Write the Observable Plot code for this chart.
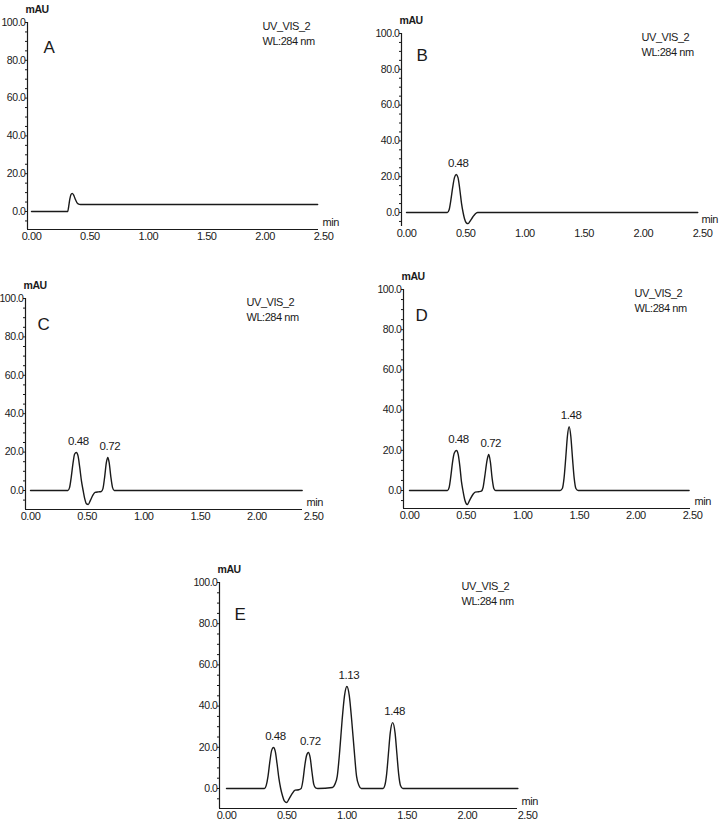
<!DOCTYPE html>
<html>
<head>
<meta charset="utf-8">
<script src="https://cdn.jsdelivr.net/npm/d3@7"></script>
<script src="https://cdn.jsdelivr.net/npm/@observablehq/plot@0.6"></script>
<style>
  html, body { margin: 0; padding: 0; background: #fff; }
  #page { position: relative; width: 720px; height: 824px; background: #fff; overflow: hidden; }
  #page svg { position: absolute; }
</style>
</head>
<body>
<div id="page"></div>
<script>
// ---------- data ----------
const xTickValues = [0, 0.5, 1.0, 1.5, 2.0, 2.5];
const yTickValues = [0, 20, 40, 60, 80, 100];
const yMinorValues = [-5, 5, 10, 15, 25, 30, 35, 45, 50, 55, 65, 70, 75, 85, 90, 95];
const channelLines = ["UV_VIS_2", "WL:284 nm"];

// Panel A trace (min, mAU)
const tA = [0, 0.31, 0.318, 0.328, 0.338, 0.348, 0.36, 0.375, 0.39, 0.41, 0.43, 2.45];
const vA = [0, 0, 2.5, 6.5, 9.0, 9.6, 8.8, 6.5, 4.6, 3.8, 3.7, 3.7];
const pkLabA = [], pkTA = [], pkVA = [];

// Panel B
const tB = [0, 0.345, 0.36, 0.375, 0.39, 0.405, 0.42, 0.435, 0.45, 0.465, 0.478, 0.49, 0.505, 0.52, 0.54, 0.56, 0.58, 0.60, 2.46];
const vB = [0, 0, 1.5, 7, 14, 19.5, 21.2, 19.5, 13, 5, 0, -3.5, -5.8, -6.2, -4.5, -2.5, -0.8, 0, 0];
const pkLabB = ["0.48"], pkTB = [0.42], pkVB = [21.2];

// Panel C
const tC = [0, 0.33, 0.345, 0.36, 0.375, 0.39, 0.405, 0.42, 0.435, 0.45, 0.465, 0.48, 0.495, 0.51, 0.53, 0.55, 0.57, 0.60, 0.625, 0.64, 0.655, 0.67, 0.683, 0.695, 0.71, 0.725, 0.74, 0.76, 2.40];
const vC = [0, 0, 1.5, 7, 14, 19, 19.8, 18, 12, 5, 0, -4.5, -7, -7.3, -5, -2.5, -1, -0.7, -0.5, 1, 7, 14.5, 17.2, 14.5, 7, 1.5, 0, 0, 0];
const pkLabC = ["0.48", "0.72"], pkTC = [0.405, 0.683], pkVC = [19.8, 17.2];

// Panel D
const tD = [0, 0.335, 0.35, 0.365, 0.38, 0.395, 0.415, 0.43, 0.445, 0.46, 0.472, 0.49, 0.51, 0.53, 0.56, 0.58, 0.61, 0.635, 0.65, 0.665, 0.685, 0.70, 0.715, 0.73, 0.745, 0.76, 1.33, 1.35, 1.365, 1.38, 1.395, 1.41, 1.425, 1.44, 1.455, 1.47, 1.49, 2.47];
const vD = [0, 0, 1.5, 7, 14, 18.5, 19.9, 18, 12, 4, 0, -5, -7, -5, -2, -0.8, -0.6, -0.3, 1.5, 7, 15, 17.9, 14, 6, 1, 0, 0, 1, 6, 16, 27, 31.8, 27, 16, 6, 1, 0, 0];
const pkLabD = ["0.48", "0.72", "1.48"], pkTD = [0.415, 0.70, 1.41], pkVD = [19.9, 17.9, 31.8];

// Panel E
const tE = [0, 0.315, 0.33, 0.345, 0.36, 0.375, 0.39, 0.405, 0.42, 0.435, 0.45, 0.465, 0.48, 0.50, 0.52, 0.545, 0.57, 0.60, 0.62, 0.635, 0.65, 0.665, 0.68, 0.695, 0.71, 0.725, 0.74, 0.76,
            0.88, 0.90, 0.92, 0.94, 0.96, 0.98, 1.00, 1.02, 1.04, 1.06, 1.08, 1.10, 1.12,
            1.30, 1.315, 1.33, 1.345, 1.36, 1.38, 1.40, 1.415, 1.43, 1.445, 1.465, 2.42];
const vE = [0, 0, 1.5, 6, 13, 18.5, 19.9, 18, 12, 5, 0, -3.5, -6, -6.8, -5, -2.5, -0.8, -0.6, 0, 4, 11, 16, 17.5, 15, 8, 2, 0.3, 0,
            0.5, 2, 6, 18, 33, 45, 49.5, 45, 33, 19, 6, 1.5, 0,
            0, 1.5, 7, 17, 27, 32, 27, 17, 7, 1.5, 0, 0];
const pkLabE = ["0.48", "0.72", "1.13", "1.48"], pkTE = [0.39, 0.68, 1.00, 1.38], pkVE = [19.9, 17.5, 49.5, 32];

// ---------- layout (pixel frame of each panel on the page) ----------
const panels = [
  {letter: "A", t: tA, v: vA, lab: pkLabA, lt: pkTA, lv: pkVA,
   left: 27, right: 318, top: 22, bottom: 229, x0: 31, pxMin: 116.8, y0: 211, letterDx: 16, letterDy: 18, xLine: true},
  {letter: "B", t: tB, v: vB, lab: pkLabB, lt: pkTB, lv: pkVB,
   left: 401, right: 697, top: 33, bottom: 226, x0: 406, pxMin: 118.4, y0: 212, letterDx: 15, letterDy: 15, xLine: false},
  {letter: "C", t: tC, v: vC, lab: pkLabC, lt: pkTC, lv: pkVC,
   left: 25, right: 302, top: 298, bottom: 509, x0: 30, pxMin: 113.2, y0: 490, letterDx: 12, letterDy: 19, xLine: true},
  {letter: "D", t: tD, v: vD, lab: pkLabD, lt: pkTD, lv: pkVD,
   left: 403, right: 690, top: 289, bottom: 508, x0: 409, pxMin: 113.2, y0: 490, letterDx: 12, letterDy: 19, xLine: true},
  {letter: "E", t: tE, v: vE, lab: pkLabE, lt: pkTE, lv: pkVE,
   left: 219, right: 517, top: 582, bottom: 808, x0: 226, pxMin: 120.4, y0: 788, letterDx: 15, letterDy: 25, xLine: true}
];

const FONT = "'Liberation Sans', Arial, sans-serif";
const INK = "#1a1a1a";
const page = document.getElementById("page");

for (const p of panels) {
  const mL = 45, mR = 45, mT = 28, mB = 26;
  const pxUnit = (p.y0 - p.top) / 100;
  const xDomain = [(p.left - p.x0) / p.pxMin, (p.right - p.x0) / p.pxMin];
  const yDomain = [-(p.bottom - p.y0) / pxUnit, 100];
  const trace = p.t.map((d, i) => ({t: d, v: p.v[i]}));
  const peaks = p.lab.map((d, i) => ({label: d, t: p.lt[i], v: p.lv[i]}));

  const marks = [
    // y axis line
    Plot.ruleX([xDomain[0]], {y1: yDomain[0], y2: 100, stroke: INK, strokeWidth: 1.2}),
    Plot.axisY({ticks: yMinorValues, tickSize: 2, tickFormat: () => "", stroke: INK, label: null}),
    Plot.axisY({ticks: yTickValues, tickSize: 2, tickPadding: 0, tickFormat: d => d.toFixed(1),
                fontSize: 10.5, fill: INK, stroke: INK, label: null, style: "letter-spacing:-0.7px"}),
    Plot.axisX({ticks: xTickValues, tickSize: 0, tickPadding: 3, tickFormat: d => d.toFixed(2),
                fontSize: 11, fill: INK, label: null}),
    Plot.line(trace, {x: "t", y: "v", curve: "monotone-x", stroke: INK, strokeWidth: 1.4}),
    Plot.text(peaks, {x: "t", y: "v", text: "label", dx: 2, dy: -11, fontSize: 11.5, fill: INK}),
    Plot.text(["mAU"], {frameAnchor: "top-left", dx: -2, dy: -17, fontSize: 10.5, fontWeight: "bold", fill: INK}),
    Plot.text([p.letter], {frameAnchor: "top-left", dx: p.letterDx, dy: p.letterDy, fontSize: 17,
                           fill: INK, style: "letter-spacing:0"}),
    Plot.text([channelLines.join("\n")], {frameAnchor: "top-right", textAnchor: "start", lineAnchor: "top",
                           dx: -56, dy: -3, fontSize: 11, lineHeight: 1.35, fill: INK}),
    Plot.text(["min"], {frameAnchor: "bottom-right", textAnchor: "start", dx: 4, dy: -4, fontSize: 11, fill: INK})
  ];
  if (p.xLine) marks.unshift(Plot.ruleY([yDomain[0]], {stroke: INK, strokeWidth: 1.2}));

  const svg = Plot.plot({
    width: p.right - p.left + mL + mR,
    height: p.bottom - p.top + mT + mB,
    marginLeft: mL, marginRight: mR, marginTop: mT, marginBottom: mB,
    x: {domain: xDomain},
    y: {domain: yDomain},
    style: {fontFamily: FONT, fontSize: "11px", background: "transparent", overflow: "visible", color: INK, letterSpacing: "-0.45px"},
    marks
  });
  svg.style.left = (p.left - mL) + "px";
  svg.style.top = (p.top - mT) + "px";
  svg.style.maxWidth = "none";
  page.appendChild(svg);
}
</script>
</body>
</html>
